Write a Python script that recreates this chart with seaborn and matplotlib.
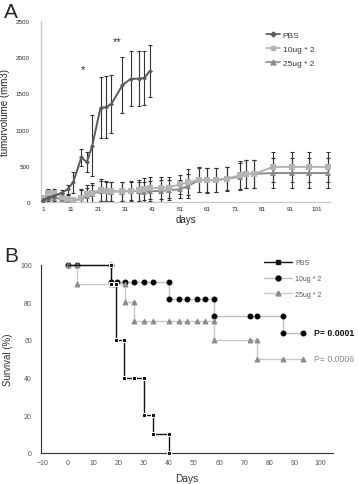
import numpy as np
import pandas as pd
import matplotlib
matplotlib.use("Agg")
import matplotlib.pyplot as plt
import seaborn as sns
from matplotlib.ticker import MultipleLocator
from matplotlib.lines import Line2D

# ---------------- Panel A data: tumour volume ----------------
days_pbs = [1, 3, 5, 8, 10, 12, 15, 17, 19, 22, 24, 26, 30, 33, 36, 38, 40]
vol_pbs = [30, 60, 85, 130, 175, 270, 615, 550, 780, 1305, 1310, 1355, 1615, 1700, 1705, 1715, 1810]
err_pbs = [10, 20, 30, 40, 60, 150, 115, 140, 420, 420, 430, 400, 385, 380, 375, 370, 365]

days_trt = [1, 3, 5, 8, 10, 12, 15, 17, 19, 22, 24, 26, 30, 33, 36, 38, 40,
            44, 47, 51, 54, 58, 61, 64, 68, 73, 75, 78, 85, 92, 98, 105]
vol_10 = [60, 120, 125, 70, 40, 25, 60, 110, 130, 165, 150, 150, 150, 155, 160, 175, 190,
          195, 200, 245, 270, 310, 300, 305, 320, 370, 390, 390, 485, 485, 485, 485]
err_10 = [20, 60, 60, 50, 60, 40, 120, 120, 130, 155, 140, 130, 130, 130, 140, 150, 150,
          155, 150, 130, 180, 170, 170, 170, 165, 190, 190, 190, 210, 210, 210, 210]
vol_25 = [20, 50, 60, 40, 30, 10, 60, 80, 110, 155, 150, 145, 145, 150, 150, 140, 150,
          152, 165, 176, 222, 305, 300, 300, 320, 352, 390, 390, 400, 400, 400, 400]
err_25 = [15, 40, 50, 40, 40, 30, 100, 110, 120, 140, 130, 130, 130, 130, 130, 140, 140,
          150, 140, 125, 170, 165, 165, 165, 160, 180, 190, 190, 210, 210, 210, 210]

# ---------------- Panel B data: survival ----------------
t_pbs = [0, 17, 17, 19, 19, 22.3, 22.3, 26.2, 30.2, 30.2, 33.5, 33.5, 40, 40]
s_pbs = [100, 100, 90, 90, 60, 60, 40, 40, 40, 20, 20, 10, 10, 0]

t_10 = [0, 3.5, 17, 17, 19.4, 22.5, 26.2, 30.2, 33.5, 40, 40, 44, 47.3, 51, 54.2, 58.1,
        58.1, 72.3, 75, 85.3, 85.3, 93.2]
s_10 = [100, 100, 100, 90.9, 90.9, 90.9, 90.9, 90.9, 90.9, 90.9, 81.8, 81.8, 81.8, 81.8,
        81.8, 81.8, 72.7, 72.7, 72.7, 72.7, 63.6, 63.6]

t_25 = [0, 3.5, 3.5, 17, 18.5, 22.5, 22.5, 26.2, 26.2, 30.2, 33.5, 40, 44, 47.3, 51, 54.2,
        58.1, 58.1, 72.3, 75, 75, 85.3, 93.2]
s_25 = [100, 100, 90, 90, 90, 90, 80, 80, 70, 70, 70, 70, 70, 70, 70, 70, 70, 60, 60, 60,
        50, 50, 50]

sns.set_style("white")
plt.rcParams['font.family'] = ['Liberation Sans', 'DejaVu Sans']

W, H = 358, 485
fig = plt.figure(figsize=(W / 100, H / 100), dpi=100)


def fx(px):
    return px / W


def fy(py):
    return 1 - py / H


# ================= Panel A =================
axA = fig.add_axes([fx(41), fy(203), fx(330) - fx(41), fy(22) - fy(203)])

c_pbs, c_10, c_25 = '#5a5a5a', '#b4b4b4', '#8a8a8a'
for d, v, e, c, m, ms, lab in [
        (days_trt, vol_25, err_25, c_25, '^', 4, '25ug * 2'),
        (days_trt, vol_10, err_10, c_10, 's', 4, '10ug * 2'),
        (days_pbs, vol_pbs, err_pbs, c_pbs, 'D', 2.5, 'PBS')]:
    axA.errorbar(d, v, yerr=e, fmt='none', ecolor='#333333', elinewidth=0.8,
                 capsize=1.6, capthick=0.8, zorder=2)
    sns.lineplot(x=d, y=v, ax=axA, color=c, marker=m, markersize=ms,
                 markeredgewidth=0, linewidth=1.4, estimator=None, sort=False,
                 zorder=3, legend=False)

axA.set_xlim(0.3, 105.7)
axA.set_ylim(0, 2500)
axA.set_xticks(range(1, 102, 10))
axA.set_yticks(range(0, 2501, 500))
axA.tick_params(axis='x', length=0, labelsize=4.5, pad=3, colors='#222222')
axA.tick_params(axis='y', length=2, width=0.6, color='#999999', labelsize=4.5,
                pad=6, labelcolor='#222222', direction='out')
for s in ['top', 'right']:
    axA.spines[s].set_visible(False)
for s in ['left', 'bottom']:
    axA.spines[s].set_color('#c8c8c8')
    axA.spines[s].set_linewidth(0.9)
axA.set_xlabel('days', fontsize=7, labelpad=2, color='#222222')
axA.set_ylabel('tumorvolume (mm3)', fontsize=7, labelpad=4, color='#222222')

axA.text(15.5, 1830, '*', fontsize=8, ha='center', va='center')
axA.text(28, 2220, '**', fontsize=8, ha='center', va='center')

hA = [Line2D([], [], color=c_pbs, marker='D', markersize=2.5, lw=1.2, label='PBS'),
      Line2D([], [], color=c_10, marker='s', markersize=3.5, lw=1.2, label='10ug * 2'),
      Line2D([], [], color=c_25, marker='^', markersize=3.5, lw=1.2, label='25ug * 2')]
fig.legend(handles=hA, loc='upper left', bbox_to_anchor=(fx(262), fy(28)),
           frameon=False, fontsize=6, handlelength=1.7, handletextpad=0.3,
           labelspacing=0.75, borderpad=0, labelcolor='#333333')

fig.text(fx(4), fy(12), 'A', fontsize=15, ha='left', va='center')

# ================= Panel B =================
axB = fig.add_axes([fx(41), fy(453.7), fx(333) - fx(41), fy(265.7) - fy(453.7)])

sns.lineplot(x=t_10, y=s_10, ax=axB, color='#c0c0c0', linewidth=1.0, marker='o',
             markersize=3.5, markerfacecolor='black', markeredgecolor='black',
             estimator=None, sort=False, clip_on=False, zorder=3)
sns.lineplot(x=t_25, y=s_25, ax=axB, color='#c8c8c8', linewidth=1.0, marker='^',
             markersize=3.5, markerfacecolor='#8c8c8c', markeredgecolor='#8c8c8c',
             estimator=None, sort=False, clip_on=False, zorder=4)
sns.lineplot(x=t_pbs, y=s_pbs, ax=axB, color='#111111', linewidth=1.0, marker='s',
             markersize=3, markevery=list(range(1, len(t_pbs))),
             estimator=None, sort=False, clip_on=False, zorder=5)

axB.set_xlim(-10.8, 105.2)
axB.set_ylim(0, 100)
axB.xaxis.set_major_locator(MultipleLocator(10))
axB.xaxis.set_minor_locator(MultipleLocator(5))
axB.yaxis.set_major_locator(MultipleLocator(20))
axB.yaxis.set_minor_locator(MultipleLocator(10))
axB.set_xticks(range(-10, 101, 10))
axB.tick_params(which='major', direction='out', length=2.5, width=0.7, color='#333333',
                labelsize=5, labelcolor='#555555', pad=2)
axB.tick_params(which='minor', direction='out', length=1.5, width=0.6, color='#333333')
axB.tick_params(axis='y', pad=4)
for s in ['top', 'right']:
    axB.spines[s].set_visible(False)
for s in ['left', 'bottom']:
    axB.spines[s].set_color('#333333')
    axB.spines[s].set_linewidth(0.8)
axB.set_xlabel('Days', fontsize=7.3, labelpad=5, color='#333333')
axB.set_ylabel('Survival (%)', fontsize=7, labelpad=5, color='#333333')

hB = [Line2D([], [], color='#111111', marker='s', markersize=3, lw=1.0, label='PBS'),
      Line2D([], [], color='#c0c0c0', marker='o', markersize=3.5, lw=1.0,
             markerfacecolor='black', markeredgecolor='black', label='10ug * 2'),
      Line2D([], [], color='#c8c8c8', marker='^', markersize=3.5, lw=1.0,
             markerfacecolor='#8c8c8c', markeredgecolor='#8c8c8c', label='25ug * 2')]
fig.legend(handles=hB, loc='upper left', bbox_to_anchor=(fx(261), fy(257)),
           frameon=False, fontsize=5, handlelength=4.0, handletextpad=0.4,
           labelspacing=1.25, borderpad=0, labelcolor='#555555')

fig.text(fx(314), fy(333), 'P= 0.0001', fontsize=6.3, fontweight='bold',
         color='#111111', ha='left', va='center')
fig.text(fx(314), fy(359), 'P= 0.0006', fontsize=6.3, color='#888888',
         ha='left', va='center')

fig.text(fx(4), fy(256), 'B', fontsize=15, ha='left', va='center')

fig.savefig('out.png', dpi=100)
